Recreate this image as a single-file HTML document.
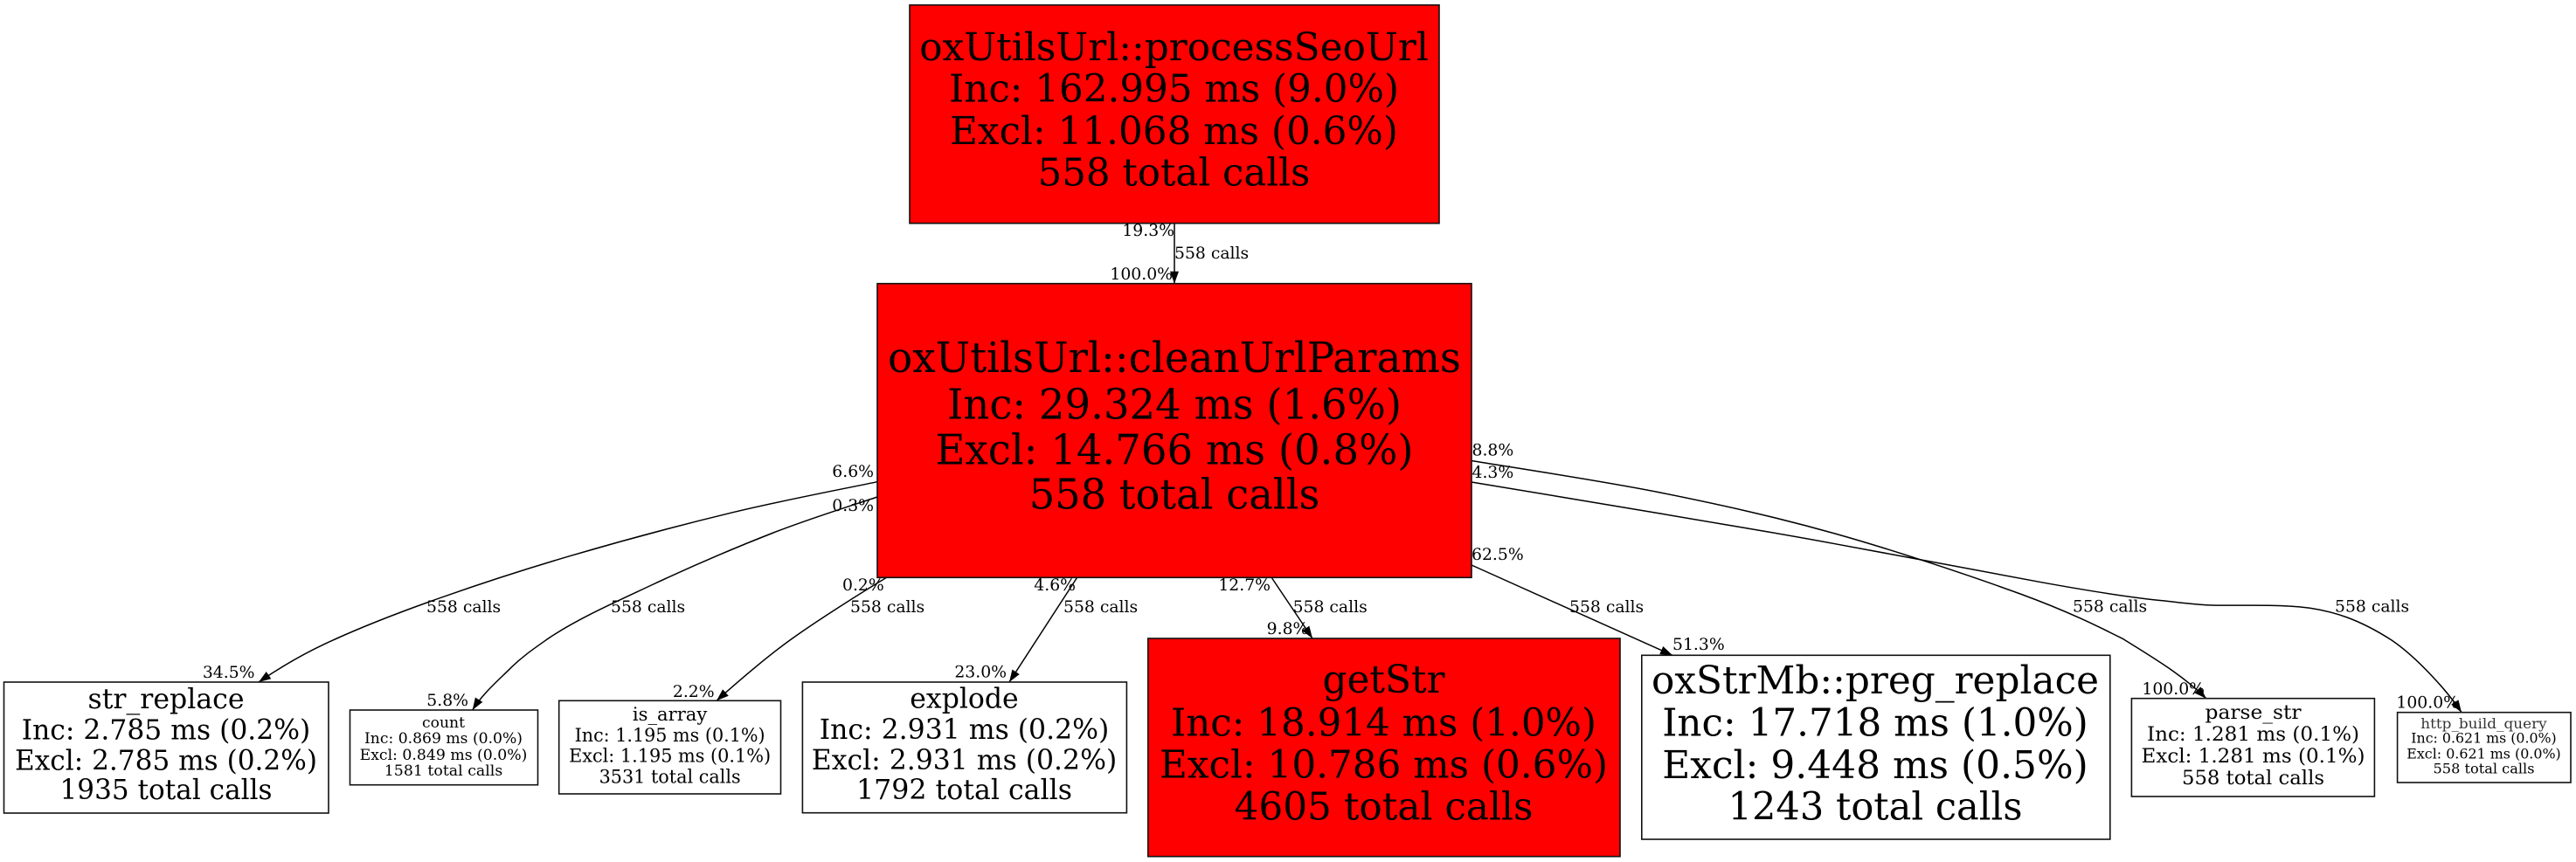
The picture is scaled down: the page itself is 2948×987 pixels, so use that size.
<!DOCTYPE html>
<html><head><meta charset="utf-8">
<style>
html,body{margin:0;padding:0;background:#fff}
svg{display:block}
text{font-family:"DejaVu Serif",serif;fill:#000}
.m text,text.m{text-anchor:middle}
.e{font-size:18.8px}
.r{text-anchor:end}
rect{stroke:#111;stroke-width:1.6}
path{fill:none;stroke:#000;stroke-width:1.5}
</style></head><body>
<svg width="2948" height="987" viewBox="0 0 2948 987" xmlns="http://www.w3.org/2000/svg">
<defs><marker id="a" markerUnits="userSpaceOnUse" markerWidth="16" markerHeight="12" refX="14" refY="6" orient="auto"><polygon points="0,1 14,6 0,11" fill="#000"/></marker></defs>
<rect width="2948" height="987" fill="#fff" style="stroke:none"/>

<!-- edges -->
<path marker-end="url(#a)" d="M1344,255.7 L1344,324.7"/>
<path marker-end="url(#a)" d="M1004,551.7 C976.5,557.5 897.4,572.5 838.7,586.7 C780,600.9 710.4,619.5 652,636.7 C593.6,653.9 535.1,673.3 488.6,690 C442.1,706.7 405.1,721.7 373,736.7 C340.9,751.7 315,768 296,781"/>
<path marker-end="url(#a)" d="M1004,569 C984.2,575.8 928.1,593.2 885,610 C841.9,626.8 788.2,650 745.5,670 C705,689 662,708 629,730 C612,742 597,752 582.6,766.7 C568,781 552,795 540.7,813"/>
<path marker-end="url(#a)" d="M1015,661 C985,679 934,711.3 904,733 C874,754.7 845,780 820,802.3"/>
<path marker-end="url(#a)" d="M1232.8,661 L1155,781"/>
<path marker-end="url(#a)" d="M1455,661 L1502,731"/>
<path marker-end="url(#a)" d="M1684,647 L1914,750.3"/>
<path marker-end="url(#a)" d="M1684,527.5 C1720,533.6 1830.7,550.1 1900,564 C1969.3,577.9 2031.3,591.7 2100,611 C2168.7,630.3 2257,659.9 2312,680 C2367,700.1 2402.4,717.9 2430,731.7 C2462,752 2497,772 2524.7,799.7"/>
<path marker-end="url(#a)" d="M1684,552 C1755,564 1830,576 1900,588 C1966,599.5 2033,610 2100,622.7 C2180,637 2255,652 2336,666.7 C2385,675.6 2435,684 2477.5,688 C2495,690 2510,692 2524.7,692.7 C2555,694 2590,692 2619,694 C2670,696 2706,713 2737,733 C2765,752 2800,790 2817,815.7"/>

<!-- nodes -->
<rect x="1041" y="5.7" width="606" height="250" fill="#f00"/>
<rect x="1004" y="324.7" width="680" height="336.6" fill="#f00"/>
<rect x="4.5" y="781" width="371.5" height="150" fill="#fff"/>
<rect x="400.5" y="813" width="215" height="85.7" fill="#fff"/>
<rect x="639.7" y="802.3" width="253.8" height="106.7" fill="#fff"/>
<rect x="918.4" y="781" width="371" height="149.7" fill="#fff"/>
<rect x="1313.8" y="731" width="540.2" height="249.7" fill="#f00"/>
<rect x="1878.8" y="750.3" width="536" height="210.7" fill="#fff"/>
<rect x="2439.4" y="799.7" width="278" height="112.3" fill="#fff"/>
<rect x="2743.6" y="815.7" width="198.4" height="80.3" fill="#fff"/>

<!-- node text -->
<g class="m" style="font-size:44px">
<text x="1343.5" y="69" textLength="582.7" lengthAdjust="spacingAndGlyphs">oxUtilsUrl::processSeoUrl</text>
<text x="1343.5" y="116.7" textLength="515" lengthAdjust="spacingAndGlyphs">Inc: 162.995 ms (9.0%)</text>
<text x="1343.5" y="165" textLength="512.8" lengthAdjust="spacingAndGlyphs">Excl: 11.068 ms (0.6%)</text>
<text x="1343.5" y="212.7" textLength="311.7" lengthAdjust="spacingAndGlyphs">558 total calls</text>
</g>
<g class="m" style="font-size:47.5px">
<text x="1344" y="426" textLength="656" lengthAdjust="spacingAndGlyphs">oxUtilsUrl::cleanUrlParams</text>
<text x="1344" y="479.3" textLength="520" lengthAdjust="spacingAndGlyphs">Inc: 29.324 ms (1.6%)</text>
<text x="1344" y="531.3" textLength="547" lengthAdjust="spacingAndGlyphs">Excl: 14.766 ms (0.8%)</text>
<text x="1344" y="582.7" textLength="332.6" lengthAdjust="spacingAndGlyphs">558 total calls</text>
</g>
<g class="m" style="font-size:31.5px">
<text x="190" y="811" textLength="179" lengthAdjust="spacingAndGlyphs">str_replace</text>
<text x="190" y="846.7" textLength="330.6" lengthAdjust="spacingAndGlyphs">Inc: 2.785 ms (0.2%)</text>
<text x="190" y="881.7" textLength="346" lengthAdjust="spacingAndGlyphs">Excl: 2.785 ms (0.2%)</text>
<text x="190" y="915" textLength="243" lengthAdjust="spacingAndGlyphs">1935 total calls</text>
</g>
<g class="m" style="font-size:17px">
<text x="507.5" y="833" textLength="49" lengthAdjust="spacingAndGlyphs">count</text>
<text x="507.5" y="851" textLength="181" lengthAdjust="spacingAndGlyphs">Inc: 0.869 ms (0.0%)</text>
<text x="507.5" y="870" textLength="191.8" lengthAdjust="spacingAndGlyphs">Excl: 0.849 ms (0.0%)</text>
<text x="507.5" y="888" textLength="135.5" lengthAdjust="spacingAndGlyphs">1581 total calls</text>
</g>
<g class="m" style="font-size:21.5px">
<text x="766.6" y="825" textLength="85.5" lengthAdjust="spacingAndGlyphs">is_array</text>
<text x="766.6" y="849" textLength="218" lengthAdjust="spacingAndGlyphs">Inc: 1.195 ms (0.1%)</text>
<text x="766.6" y="872.7" textLength="231" lengthAdjust="spacingAndGlyphs">Excl: 1.195 ms (0.1%)</text>
<text x="766.6" y="896.7" textLength="162" lengthAdjust="spacingAndGlyphs">3531 total calls</text>
</g>
<g class="m" style="font-size:31.5px">
<text x="1103.5" y="810.7" textLength="124.4" lengthAdjust="spacingAndGlyphs">explode</text>
<text x="1103.5" y="846" textLength="331.6" lengthAdjust="spacingAndGlyphs">Inc: 2.931 ms (0.2%)</text>
<text x="1103.5" y="881" textLength="349.5" lengthAdjust="spacingAndGlyphs">Excl: 2.931 ms (0.2%)</text>
<text x="1103.5" y="915" textLength="247" lengthAdjust="spacingAndGlyphs">1792 total calls</text>
</g>
<g class="m" style="font-size:44px">
<text x="1583.5" y="793" textLength="140" lengthAdjust="spacingAndGlyphs">getStr</text>
<text x="1583.5" y="842.3" textLength="487" lengthAdjust="spacingAndGlyphs">Inc: 18.914 ms (1.0%)</text>
<text x="1583.5" y="890.7" textLength="513" lengthAdjust="spacingAndGlyphs">Excl: 10.786 ms (0.6%)</text>
<text x="1583.5" y="938.3" textLength="342" lengthAdjust="spacingAndGlyphs">4605 total calls</text>
</g>
<g class="m" style="font-size:44px">
<text x="2146" y="794" textLength="512" lengthAdjust="spacingAndGlyphs">oxStrMb::preg_replace</text>
<text x="2146" y="842.7" textLength="487.6" lengthAdjust="spacingAndGlyphs">Inc: 17.718 ms (1.0%)</text>
<text x="2146" y="891" textLength="487.6" lengthAdjust="spacingAndGlyphs">Excl: 9.448 ms (0.5%)</text>
<text x="2146" y="938.7" textLength="337" lengthAdjust="spacingAndGlyphs">1243 total calls</text>
</g>
<g class="m" style="font-size:22.5px">
<text x="2578.5" y="823" textLength="110" lengthAdjust="spacingAndGlyphs">parse_str</text>
<text x="2578.5" y="848" textLength="243" lengthAdjust="spacingAndGlyphs">Inc: 1.281 ms (0.1%)</text>
<text x="2578.5" y="873" textLength="256" lengthAdjust="spacingAndGlyphs">Excl: 1.281 ms (0.1%)</text>
<text x="2578.5" y="898" textLength="163" lengthAdjust="spacingAndGlyphs">558 total calls</text>
</g>
<g class="m" style="font-size:16px;">
<text x="2842.5" y="834" textLength="144.4" lengthAdjust="spacingAndGlyphs" fill-opacity=".8">http_build_query</text>
<text x="2842.5" y="850.7" textLength="166.4" lengthAdjust="spacingAndGlyphs">Inc: 0.621 ms (0.0%)</text>
<text x="2842.5" y="868.7" textLength="176.5" lengthAdjust="spacingAndGlyphs">Excl: 0.621 ms (0.0%)</text>
<text x="2842.5" y="885.7" textLength="116" lengthAdjust="spacingAndGlyphs">558 total calls</text>
</g>

<!-- edge labels -->
<g class="e">
<text x="1344" y="270" class="r">19.3%</text>
<text x="1344" y="296">558 calls</text>
<text x="1342" y="320" class="r">100.0%</text>
<text x="1000" y="546" class="r">6.6%</text>
<text x="1000" y="585" class="r">0.3%</text>
<text x="964" y="676">0.2%</text>
<text x="973" y="701">558 calls</text>
<text x="488" y="701">558 calls</text>
<text x="699" y="701">558 calls</text>
<text x="291.5" y="776" class="r">34.5%</text>
<text x="536" y="808" class="r">5.8%</text>
<text x="817.6" y="798" class="r">2.2%</text>
<text x="1231" y="676" class="r">4.6%</text>
<text x="1217" y="701">558 calls</text>
<text x="1454" y="676" class="r">12.7%</text>
<text x="1479.6" y="701">558 calls</text>
<text x="1497.4" y="726" class="r">9.8%</text>
<text x="1684" y="641">62.5%</text>
<text x="1796" y="701">558 calls</text>
<text x="1914" y="744">51.3%</text>
<text x="1152" y="775.7" class="r">23.0%</text>
<text x="1684.5" y="521.7">8.8%</text>
<text x="1684.5" y="547">4.3%</text>
<text x="2372" y="700.7">558 calls</text>
<text x="2672" y="700.7">558 calls</text>
<text x="2523" y="795" class="r">100.0%</text>
<text x="2814" y="810.7" class="r">100.0%</text>
</g>
</svg>
</body></html>
